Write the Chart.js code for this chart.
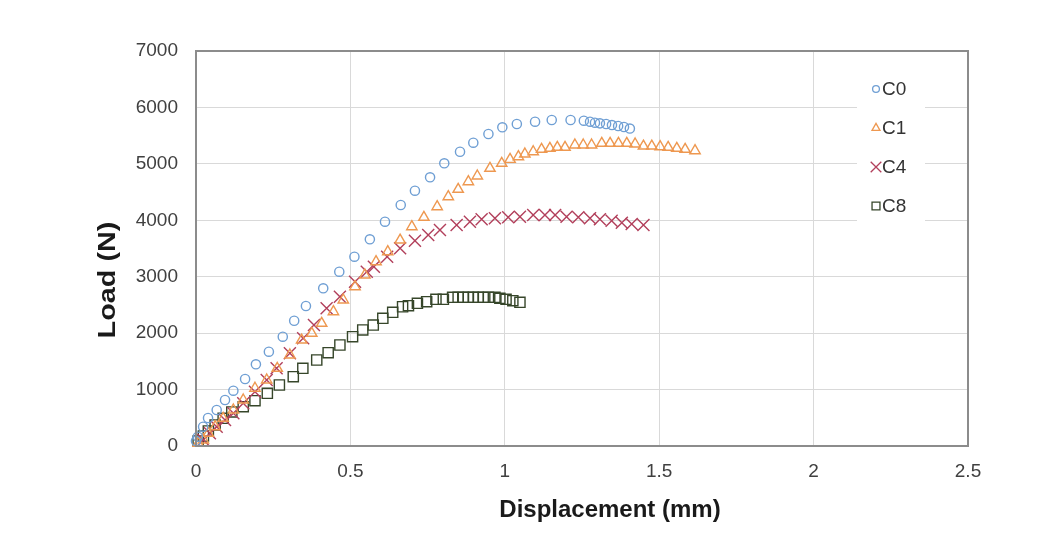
<!DOCTYPE html>
<html>
<head>
<meta charset="utf-8">
<script src="https://cdn.jsdelivr.net/npm/chart.js@4/dist/chart.umd.min.js"></script>
<style>
  html, body { margin: 0; padding: 0; background: #fff; }
  #wrap { width: 1057px; height: 538px; }
</style>
</head>
<body>
<div id="wrap"><canvas id="chart" width="1057" height="538"></canvas></div>
<script>
// Load-displacement curves
const seriesNames = ["C0", "C1", "C4", "C8"];

const c0X = [0.0, 0.006, 0.023, 0.039, 0.067, 0.094, 0.121, 0.159, 0.194, 0.236, 0.281, 0.318, 0.356, 0.412, 0.464, 0.513, 0.563, 0.612, 0.663, 0.709, 0.758, 0.804, 0.855, 0.898, 0.947, 0.992, 1.039, 1.098, 1.152, 1.213, 1.256, 1.276, 1.292, 1.308, 1.328, 1.347, 1.367, 1.386, 1.405];
const c0Y = [90, 165, 342, 496, 638, 815, 980, 1187, 1448, 1671, 1937, 2220, 2481, 2795, 3089, 3355, 3663, 3975, 4271, 4524, 4762, 5010, 5215, 5375, 5529, 5648, 5706, 5747, 5777, 5777, 5765, 5747, 5729, 5718, 5706, 5688, 5671, 5653, 5626];

const c1X = [0.007, 0.024, 0.040, 0.062, 0.088, 0.121, 0.153, 0.191, 0.229, 0.263, 0.304, 0.342, 0.375, 0.407, 0.445, 0.477, 0.515, 0.547, 0.583, 0.621, 0.661, 0.699, 0.738, 0.781, 0.817, 0.849, 0.882, 0.911, 0.952, 0.990, 1.017, 1.044, 1.065, 1.092, 1.119, 1.146, 1.170, 1.195, 1.227, 1.254, 1.281, 1.314, 1.341, 1.368, 1.395, 1.422, 1.449, 1.476, 1.503, 1.529, 1.557, 1.584, 1.616];
const c1Y = [48, 106, 225, 342, 491, 638, 815, 1023, 1170, 1377, 1613, 1878, 1997, 2174, 2380, 2587, 2823, 3030, 3266, 3443, 3650, 3886, 4053, 4241, 4418, 4549, 4684, 4785, 4921, 5010, 5080, 5127, 5175, 5215, 5258, 5276, 5293, 5293, 5334, 5334, 5334, 5364, 5364, 5364, 5364, 5352, 5316, 5316, 5304, 5293, 5276, 5258, 5233];

const c4X = [0.024, 0.045, 0.067, 0.094, 0.121, 0.153, 0.191, 0.229, 0.261, 0.304, 0.347, 0.382, 0.423, 0.466, 0.515, 0.553, 0.576, 0.619, 0.661, 0.709, 0.752, 0.790, 0.844, 0.887, 0.925, 0.968, 1.011, 1.049, 1.092, 1.130, 1.163, 1.200, 1.238, 1.276, 1.308, 1.346, 1.379, 1.411, 1.449];
const c4Y = [106, 225, 342, 461, 579, 757, 962, 1170, 1377, 1643, 1909, 2144, 2440, 2646, 2912, 3089, 3177, 3355, 3503, 3638, 3739, 3828, 3916, 3975, 4017, 4035, 4053, 4064, 4094, 4094, 4094, 4064, 4053, 4035, 4017, 3993, 3957, 3934, 3916];

const c8X = [0.007, 0.024, 0.040, 0.062, 0.088, 0.116, 0.153, 0.191, 0.231, 0.270, 0.315, 0.346, 0.391, 0.428, 0.466, 0.507, 0.540, 0.574, 0.605, 0.637, 0.669, 0.688, 0.717, 0.747, 0.777, 0.801, 0.831, 0.849, 0.866, 0.882, 0.898, 0.914, 0.930, 0.947, 0.968, 0.984, 1.004, 1.026, 1.049];
const c8Y = [89, 177, 266, 372, 491, 603, 696, 803, 934, 1081, 1228, 1377, 1524, 1653, 1790, 1937, 2056, 2144, 2263, 2369, 2468, 2486, 2529, 2557, 2600, 2600, 2635, 2635, 2635, 2635, 2635, 2635, 2635, 2635, 2635, 2617, 2600, 2575, 2547];

const xTicks = [0, 0.5, 1, 1.5, 2, 2.5];
const yTicks = [0, 1000, 2000, 3000, 4000, 5000, 6000, 7000];

const xTitle = "Displacement (mm)";
const yTitle = "Load (N)";

const toPoints = (xs, ys) => xs.map((x, i) => ({ x: x, y: ys[i] }));

const styles = [
  { color: "#6f9fd4", pointStyle: "circle", radius: 4.6, legendRadius: 3.4 },
  { color: "#ee9850", pointStyle: "triangle", radius: 6, legendRadius: 4.6 },
  { color: "#b2405c", pointStyle: "crossRot", radius: 8.5, legendRadius: 7.5 },
  { color: "#36462a", pointStyle: "rect", radius: 7.2, legendRadius: 5.6 }
];
const allX = [c0X, c1X, c4X, c8X];
const allY = [c0Y, c1Y, c4Y, c8Y];

const datasets = seriesNames.map((name, i) => ({
  label: name,
  data: toPoints(allX[i], allY[i]),
  showLine: false,
  clip: false,
  pointStyle: styles[i].pointStyle,
  pointRadius: styles[i].radius,
  pointHoverRadius: styles[i].radius,
  pointBorderWidth: 1.4,
  pointBorderColor: styles[i].color,
  pointBackgroundColor: "rgba(0,0,0,0)"
}));

const FONT = "'Liberation Sans', Arial, sans-serif";

// box round the plot, legend inside it, axis titles
const decorations = {
  id: "decorations",
  afterDraw(chart) {
    const ctx = chart.ctx;
    const a = chart.chartArea;
    ctx.save();
    ctx.strokeStyle = "#8c8c8c";
    ctx.lineWidth = 2;
    ctx.strokeRect(a.left, a.top, a.right - a.left, a.bottom - a.top);

    // legend
    ctx.fillStyle = "#ffffff";
    ctx.fillRect(857, 68, 68, 154);
    const rowY = [89, 128, 167, 206];
    seriesNames.forEach((name, i) => {
      ctx.strokeStyle = styles[i].color;
      ctx.fillStyle = "rgba(0,0,0,0)";
      ctx.lineWidth = 1.3;
      Chart.helpers.drawPoint(ctx, {
        pointStyle: styles[i].pointStyle,
        radius: styles[i].legendRadius,
        borderWidth: 1.3,
        rotation: 0
      }, 876, rowY[i]);
      ctx.fillStyle = "#333333";
      ctx.font = "19px " + FONT;
      ctx.textAlign = "left";
      ctx.textBaseline = "middle";
      ctx.fillText(name, 882, rowY[i] + 1);
    });

    // axis titles
    ctx.fillStyle = "#1a1a1a";
    ctx.font = "bold 24px " + FONT;
    ctx.textAlign = "center";
    ctx.textBaseline = "middle";
    ctx.fillText(xTitle, 610, 510);
    ctx.translate(108, 280);
    ctx.rotate(-Math.PI / 2);
    ctx.scale(1.2, 1);
    ctx.fillText(yTitle, 0, 0);
    ctx.restore();
  }
};

const ctx = document.getElementById("chart").getContext("2d");
new Chart(ctx, {
  type: "scatter",
  data: { datasets: datasets },
  options: {
    responsive: false,
    animation: false,
    devicePixelRatio: 1,
    layout: { padding: { left: 0, right: 89, top: 51, bottom: 0 } },
    plugins: {
      legend: { display: false },
      tooltip: { enabled: false }
    },
    scales: {
      x: {
        type: "linear",
        min: 0,
        max: 2.5,
        afterBuildTicks: (s) => { s.ticks = xTicks.map(v => ({ value: v })); },
        afterFit: (s) => { s.height = 92; },
        grid: { color: "#d9d9d9", lineWidth: 1, drawTicks: false },
        border: { display: false },
        ticks: {
          padding: 14,
          color: "#404040",
          font: { family: FONT, size: 19 },
          callback: (v) => String(v)
        }
      },
      y: {
        type: "linear",
        min: 0,
        max: 7000,
        afterBuildTicks: (s) => { s.ticks = yTicks.map(v => ({ value: v })); },
        afterFit: (s) => { s.width = 196; },
        grid: { color: "#d9d9d9", lineWidth: 1, drawTicks: false },
        border: { display: false },
        ticks: {
          padding: 18,
          color: "#404040",
          font: { family: FONT, size: 19 },
          callback: (v) => String(v)
        }
      }
    }
  },
  plugins: [decorations]
});
</script>
</body>
</html>
